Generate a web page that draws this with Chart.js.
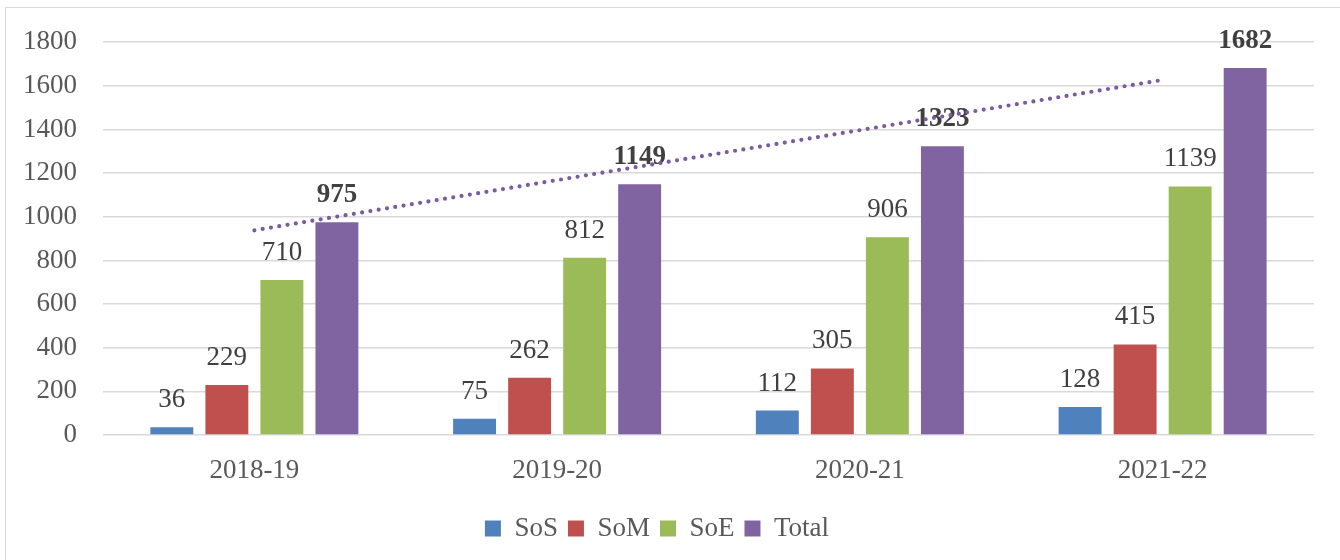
<!DOCTYPE html>
<html>
<head>
<meta charset="utf-8">
<script src="https://cdn.jsdelivr.net/npm/chart.js@4.4.1/dist/chart.umd.min.js"></script>
<style>
  html, body { margin: 0; padding: 0; background: #fff; overflow: hidden; }
  #wrap { position: relative; width: 1340px; height: 560px; }
  #frame {
    position: absolute; left: 5px; top: 7px; width: 1400px; height: 600px;
    border: 1.5px solid #d9d9d9; box-sizing: border-box;
  }
  canvas { position: absolute; left: 0; top: 0; }
</style>
</head>
<body>
<div id="wrap">
  <div id="frame"></div>
  <canvas id="chart" width="1340" height="560"></canvas>
</div>
<script>
// chart data
const years = ['2018-19', '2019-20', '2020-21', '2021-22'];
const sos = [36, 75, 112, 128];
const som = [229, 262, 305, 415];
const soe = [710, 812, 906, 1139];
const total = [975, 1149, 1323, 1682];
// linear trend of Total as drawn in the picture
const totalTrend = [938, 1168, 1397, 1627];
const yTicks = [0, 200, 400, 600, 800, 1000, 1200, 1400, 1600, 1800];

const FONT = '"Liberation Serif", "DejaVu Serif", serif';

// draws the value above each bar
const barLabels = {
    id: 'barLabels',
    afterDatasetDraw(chart, args) {
        const ds = chart.data.datasets[args.index];
        if (ds.type === 'line') return;
        const ctx = chart.ctx;
        ctx.save();
        ctx.fillStyle = '#404040';
        ctx.textAlign = 'center';
        ctx.textBaseline = 'alphabetic';
        ctx.font = (ds.label === 'Total' ? 'bold ' : '') + '27px ' + FONT;
        args.meta.data.forEach((bar, i) => {
            ctx.fillText(String(ds.data[i]), bar.x, bar.y - 20);
        });
        ctx.restore();
    }
};

const ctx = document.getElementById('chart').getContext('2d');
new Chart(ctx, {
    data: {
        labels: years,
        datasets: [
            { type: 'bar', label: 'SoS', data: sos, backgroundColor: '#4F81BD', order: 1 },
            { type: 'bar', label: 'SoM', data: som, backgroundColor: '#C0504D', order: 1 },
            { type: 'bar', label: 'SoE', data: soe, backgroundColor: '#9BBB59', order: 1 },
            { type: 'bar', label: 'Total', data: total, backgroundColor: '#8064A2', order: 1 },
            {
                type: 'line', label: 'trend', data: totalTrend, order: 0,
                borderColor: '#7a5c9e', borderWidth: 4.2, borderDash: [0, 8.4],
                borderCapStyle: 'round', pointRadius: 0, fill: false, tension: 0,
            },
        ],
    },
    options: {
        responsive: false,
        animation: false,
        categoryPercentage: 0.727,
        barPercentage: 0.78,
        layout: { padding: { left: 0, right: 26, top: 34, bottom: 8 } },
        plugins: {
            legend: {
                position: 'bottom',
                labels: {
                    filter: (item) => item.text !== 'trend',
                    boxWidth: 16,
                    boxHeight: 16,
                    padding: 10,
                    color: '#595959',
                    font: { family: FONT, size: 27 },
                },
            },
            tooltip: { enabled: false },
        },
        scales: {
            x: {
                grid: { display: false },
                border: { display: false },
                ticks: { color: '#595959', font: { family: FONT, size: 27 }, padding: 12 },
                afterFit: (scale) => { scale.height = 70; },
            },
            y: {
                min: 0,
                max: 1800,
                afterBuildTicks: (scale) => { scale.ticks = yTicks.map(v => ({ value: v })); },
                grid: { color: '#d9d9d9', lineWidth: 1.5, drawTicks: false },
                border: { display: false },
                ticks: {
                    color: '#595959', font: { family: FONT, size: 27 }, padding: 26,
                    callback: (v) => String(v),
                },
                afterFit: (scale) => { scale.width = 103; },
            },
        },
    },
    plugins: [barLabels],
});
</script>
</body>
</html>
